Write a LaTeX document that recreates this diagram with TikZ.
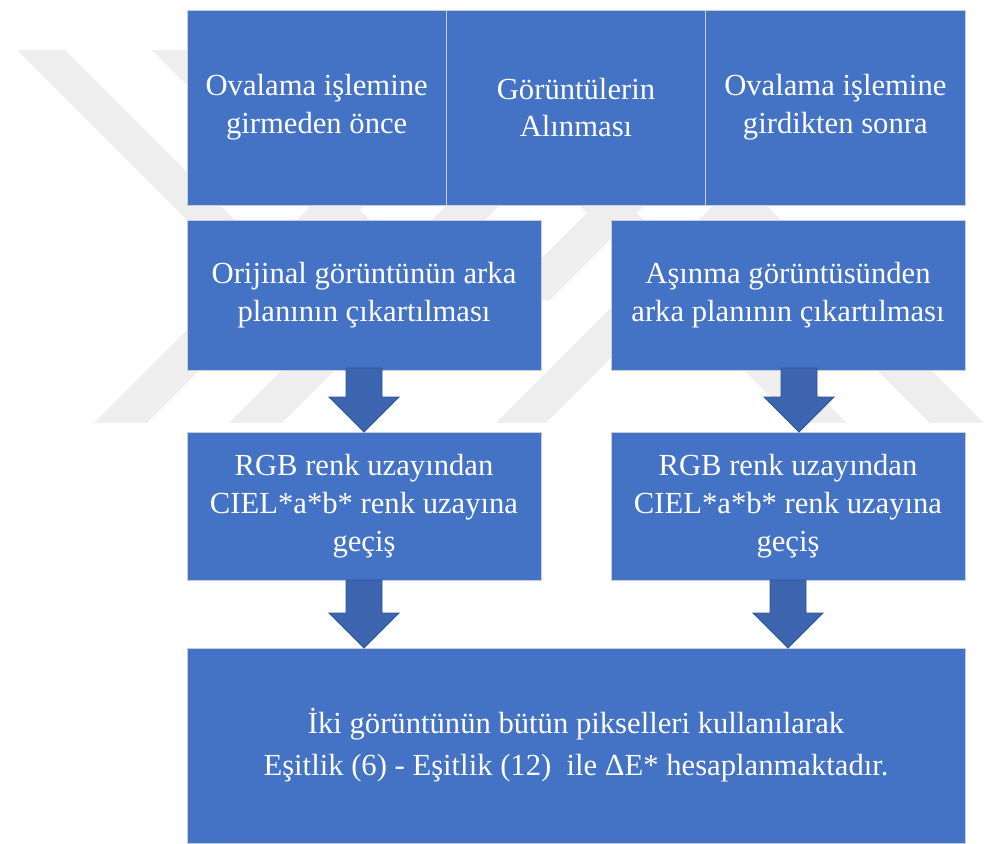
\documentclass[tikz,border=0pt]{standalone}
\usepackage{fontspec}
\setmainfont{Liberation Serif}
\usepackage{xcolor}
\usepackage{tikz}
\usetikzlibrary{positioning, calc}

\definecolor{boxblue}{HTML}{4472C4}
\definecolor{boxedge}{RGB}{200,206,216}
\definecolor{arrowblue}{HTML}{3D64AE}
\definecolor{arrowedge}{HTML}{2F5597}
\definecolor{markgray}{RGB}{238,238,238}

\begin{document}
\begin{tikzpicture}[
    stepbox/.style={draw=boxedge, line width=0.6pt, fill=boxblue, text=white,
        align=center, outer sep=0pt, inner sep=2pt,
        font=\fontsize{21.8}{27}\selectfont},
    topbox/.style={stepbox, minimum width=6.4833cm, minimum height=4.875cm},
    midbox/.style={stepbox, minimum width=8.85cm, minimum height=3.75cm},
    rgbbox/.style={stepbox, minimum width=8.85cm, minimum height=3.7cm},
    endbox/.style={stepbox, minimum width=19.45cm, minimum height=4.875cm},
    blockarr/.style={fill=arrowblue, draw=arrowedge, line width=0.6pt,
        to path={let \p1=(\tikztostart), \p2=(\tikztotarget) in
            (\x1-0.45cm,\y1) -- (\x1+0.45cm,\y1) -- (\x1+0.45cm,\y2+0.875cm)
            -- (\x1+0.875cm,\y2+0.875cm) -- (\x1,\y2) -- (\x1-0.875cm,\y2+0.875cm)
            -- (\x1-0.45cm,\y2+0.875cm) -- cycle}}
]
    \useasboundingbox (0,0) rectangle (24.6,-21.075);

    % Watermark
    \begin{scope}[x=0.025cm, y=-0.025cm]
        \fill[markgray] (17,50) -- (65,50) -- (265,250) -- (217,250) -- cycle;
        \fill[markgray] (152,50) -- (200,50) -- (400,250) -- (352,250) -- cycle;
        \fill[markgray] (94,423) -- (147,423) -- (370,200) -- (317,200) -- cycle;
        \fill[markgray] (229,423) -- (282,423) -- (505,200) -- (452,200) -- cycle;
        \fill[markgray] (496,423) -- (546,423) -- (769,200) -- (719,200) -- cycle;
        \fill[markgray] (500,300) -- (550,300) -- (650,200) -- (600,200) -- cycle;
        \fill[markgray] (797,423) -- (847,423) -- (624,200) -- (574,200) -- cycle;
        \fill[markgray] (930,423) -- (984,423) -- (761,200) -- (707,200) -- cycle;
    \end{scope}

    % Nodes
    \node (t1) [topbox, anchor=north west] at (4.675,-0.25) {Ovalama işlemine\\girmeden önce};
    \node (t2) [topbox, right=0pt of t1] {Görüntülerin\\Alınması};
    \node (t3) [topbox, right=0pt of t2] {Ovalama işlemine\\girdikten sonra};

    \node (o1) [midbox, below right=0.375cm and 0cm of t1.south west] {Orijinal görüntünün arka\\planının çıkartılması};
    \node (o2) [midbox, below left=0.375cm and 0cm of t3.south east] {Aşınma görüntüsünden\\arka planının çıkartılması};

    \node (r1) [rgbbox, below=1.55cm of o1] {RGB renk uzayından\\CIEL*a*b* renk uzayına\\geçiş};
    \node (r2) [rgbbox, below=1.55cm of o2] {RGB renk uzayından\\CIEL*a*b* renk uzayına\\geçiş};

    \node (e) [endbox, below right=1.7cm and 0cm of r1.south west] {İki görüntünün bütün pikselleri kullanılarak\\[0.1cm]Eşitlik (6) - Eşitlik (12)\ \ ile ΔE* hesaplanmaktadır.};

    % Arrows
    \draw[blockarr] ([yshift=0.05cm]o1.south) to (r1.north);
    \draw[blockarr] ([xshift=0.275cm, yshift=0.05cm]o2.south) to ([xshift=0.275cm]r2.north);
    \draw[blockarr] (r1.south) to (e.north);
    \draw[blockarr] (r2.south) to (e.north -| r2.south);

\end{tikzpicture}
\end{document}
